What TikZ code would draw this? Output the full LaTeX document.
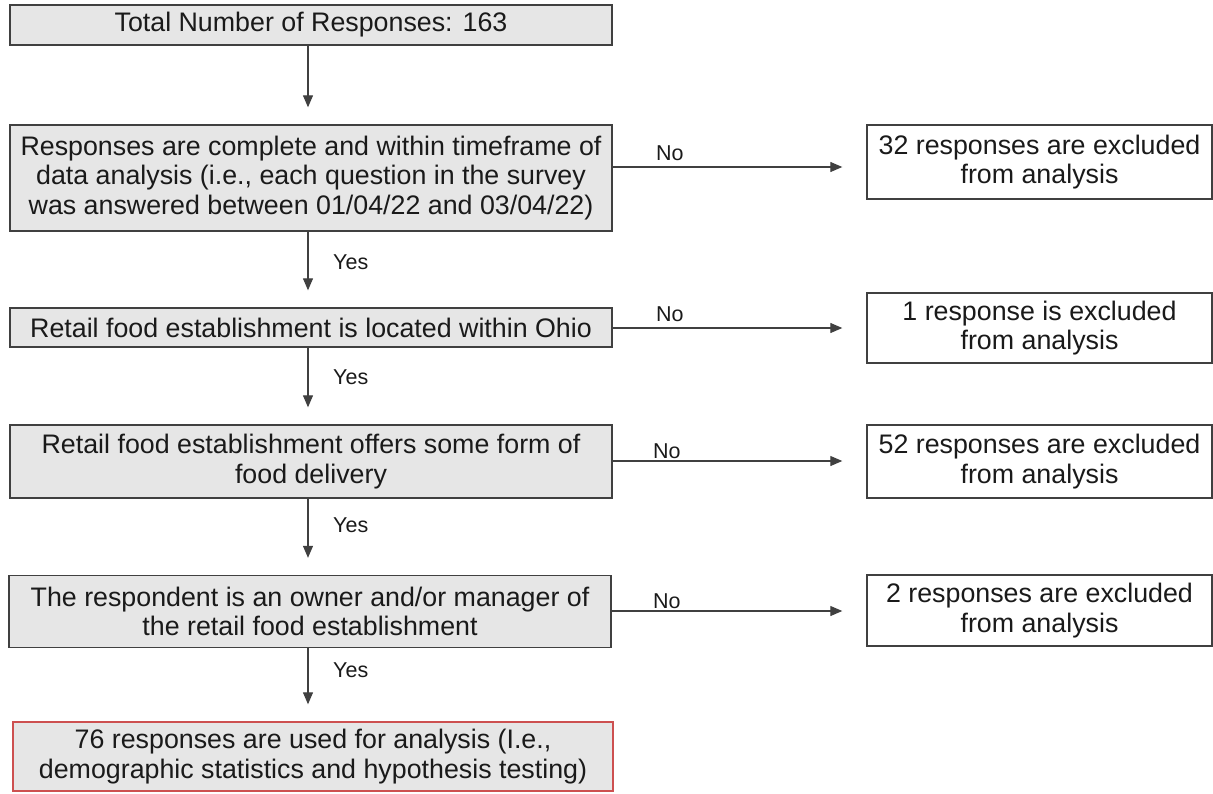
\documentclass[tikz,border=0pt]{standalone}
\usepackage{fontspec}
\setmainfont{Liberation Sans}
\usetikzlibrary{arrows.meta}
\definecolor{boxgray}{RGB}{230,230,230}
\definecolor{edgegray}{RGB}{64,64,64}
\definecolor{redge}{RGB}{205,80,80}
\definecolor{txt}{RGB}{26,26,26}
\begin{document}
\begin{tikzpicture}[x=1pt,y=-1pt,
  lbox/.style={draw=edgegray, fill=boxgray, line width=1.4pt, minimum width=602pt, align=center,
    font=\fontsize{26.8}{29.5}\selectfont, text=txt, inner sep=0pt},
  rbox/.style={draw=edgegray, fill=white, line width=1.4pt, minimum width=345pt, align=center,
    font=\fontsize{26.8}{29.5}\selectfont, text=txt, inner sep=0pt},
  arr/.style={draw=edgegray, line width=1.2pt, -{Triangle[length=12pt,width=10pt]}},
  lab/.style={font=\fontsize{21.5}{24}\selectfont, text=txt, inner sep=0pt}]
\useasboundingbox (0,0) rectangle (1213,793);
\node[lbox, minimum height=40pt] (b1) at (311,25) {Total Number of Responses: 163};
\node[lbox, minimum height=106pt] (b2) at (311,178) {Responses are complete and within timeframe of\\ data analysis (i.e., each question in the survey\\ was answered between 01/04/22 and 03/04/22)};
\node[lbox, minimum height=39pt] (b3) at (311,327.5) {Retail food establishment is located within Ohio};
\node[lbox, minimum height=73pt] (b4) at (311,461.5) {Retail food establishment offers some form of\\ food delivery};
\node[lbox, minimum height=72pt] (b5) at (310,611.5) {The respondent is an owner and/or manager of\\ the retail food establishment};
\node[lbox, draw=redge, minimum width=600pt, minimum height=69pt] (b6) at (313,756.5) {76 responses are used for analysis (I.e.,\\ demographic statistics and hypothesis testing)};
\node[rbox, minimum height=74pt] (r1) at (1039.5,162) {32 responses are excluded\\ from analysis};
\node[rbox, minimum height=70pt] (r2) at (1039.5,328) {1 response is excluded\\ from analysis};
\node[rbox, minimum height=73pt] (r3) at (1039.5,461.5) {52 responses are excluded\\ from analysis};
\node[rbox, minimum height=71pt] (r4) at (1039.5,610.5) {2 responses are excluded\\ from analysis};
\coordinate (ax) at (308,0);
\draw[arr, shorten >=17pt] (b1.south -| ax) -- (b2.north -| ax);
\draw[arr, shorten >=17pt] (b2.south -| ax) -- (b3.north -| ax);
\draw[arr, shorten >=17pt] (b3.south -| ax) -- (b4.north -| ax);
\draw[arr, shorten >=17pt] (b4.south -| ax) -- (b5.north -| ax);
\draw[arr, shorten >=17pt] (b5.south -| ax) -- (b6.north -| ax);
\coordinate (h1) at (0,167);
\coordinate (h2) at (0,328);
\coordinate (h3) at (0,461);
\coordinate (h4) at (0,611);
\draw[arr, shorten >=24pt] (b2.east |- h1) -- (r1.west |- h1);
\draw[arr, shorten >=24pt] (b3.east |- h2) -- (r2.west |- h2);
\draw[arr, shorten >=24pt] (b4.east |- h3) -- (r3.west |- h3);
\draw[arr, shorten >=24pt] (b5.east |- h4) -- (r4.west |- h4);
\node[lab, anchor=south west] (n1) at (656,161) {No};
\node[lab, anchor=south west] (n2) at (656,322) {No};
\node[lab, anchor=south west] (n3) at (653,459) {No};
\node[lab, anchor=south west] (n4) at (653,609) {No};
\node[lab, anchor=west] (y1) at (333,262) {Yes};
\node[lab, anchor=west] (y2) at (333,377) {Yes};
\node[lab, anchor=west] (y3) at (333,525) {Yes};
\node[lab, anchor=west] (y4) at (333,670) {Yes};
\end{tikzpicture}
\end{document}
